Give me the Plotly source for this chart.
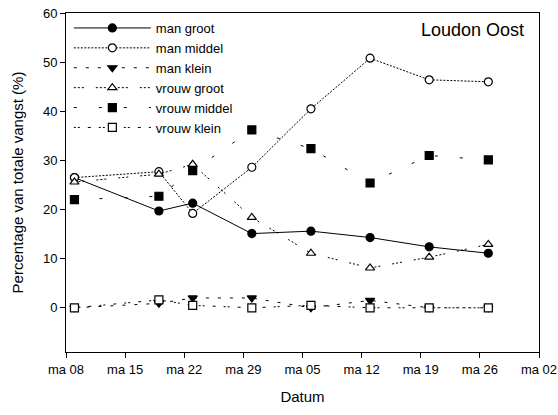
import plotly.graph_objects as go

# sampling dates
dates = ['2002-07-09', '2002-07-19', '2002-07-23', '2002-07-30',
         '2002-08-06', '2002-08-13', '2002-08-20', '2002-08-27']

man_groot = [26.5, 19.7, 21.3, 15.1, 15.6, 14.3, 12.4, 11.1]
man_middel = [26.5, 27.7, 19.2, 28.6, 40.5, 50.8, 46.4, 46.0]
man_klein = [0.0, 0.9, 2.0, 2.0, 0.0, 1.5, 0.0, 0.0]
vrouw_groot = [25.6, 27.2, 29.2, 18.4, 11.1, 8.1, 10.3, 12.9]
vrouw_middel = [22.0, 22.7, 27.9, 36.2, 32.4, 25.4, 31.0, 30.1]
vrouw_klein = [0.0, 1.6, 0.5, 0.0, 0.5, 0.0, 0.0, 0.0]

tick_dates = ['2002-07-08', '2002-07-15', '2002-07-22', '2002-07-29', '2002-08-05',
              '2002-08-12', '2002-08-19', '2002-08-26', '2002-09-02']
tick_labels = ['ma 08', 'ma 15', 'ma 22', 'ma 29', 'ma 05',
               'ma 12', 'ma 19', 'ma 26', 'ma 02']

FONT = 'Arial, Liberation Sans, sans-serif'

# name, values, dash pattern, symbol, filled
series = [
    ('man groot', man_groot, 'solid', 'circle', True),
    ('man middel', man_middel, '2px,1.5px', 'circle', False),
    ('man klein', man_klein, '3px,9px', 'triangle-down', True),
    ('vrouw groot', vrouw_groot, '2px,2px,2px,2px,2px,12px', 'triangle-up', False),
    ('vrouw middel', vrouw_middel, '3px,22px', 'square', True),
    ('vrouw klein', vrouw_klein, '2px,2px,2px,8px,3px,8px', 'square', False),
]

fig = go.Figure()
for name, vals, dash, symbol, filled in series:
    fig.add_trace(go.Scatter(
        x=dates, y=vals, name=name, mode='lines+markers',
        line=dict(color='black', width=1, dash=dash),
        marker=dict(symbol=symbol, size=8, color='black' if filled else 'white',
                    line=dict(color='black', width=1.2)),
    ))

fig.add_annotation(text='Loudon Oost', x=0.973, y=0.95, xref='paper', yref='paper',
                   xanchor='right', yanchor='middle', showarrow=False,
                   font=dict(size=18, color='black', family=FONT))

fig.update_layout(
    width=558, height=415,
    margin=dict(l=66, r=19, t=13, b=63, autoexpand=False),
    paper_bgcolor='white', plot_bgcolor='white',
    font=dict(family=FONT, size=13, color='black'),
    showlegend=True,
    legend=dict(x=0.006, y=1.0, xanchor='left', yanchor='top',
                bgcolor='rgba(0,0,0,0)', borderwidth=0,
                font=dict(size=13, family=FONT), itemwidth=77),
    xaxis=dict(type='date', range=['2002-07-08', '2002-09-02'],
               tickvals=tick_dates, ticktext=tick_labels,
               showgrid=False, zeroline=False,
               showline=True, linecolor='black', linewidth=1, mirror=True,
               ticks='outside', ticklen=5, tickcolor='black',
               title=dict(text='Datum', font=dict(size=15), standoff=15)),
    yaxis=dict(range=[-9, 60], tickvals=[0, 10, 20, 30, 40, 50, 60],
               showgrid=False, zeroline=False,
               showline=True, linecolor='black', linewidth=1, mirror=True,
               ticks='outside', ticklen=5, tickcolor='black',
               title=dict(text='Percentage van totale vangst (%)', font=dict(size=15), standoff=15)),
)

# drop the default body margin so the figure fills the window exactly
fig.write_html('out.html', config={'displayModeBar': False},
               post_script="document.body.style.margin='0';")
